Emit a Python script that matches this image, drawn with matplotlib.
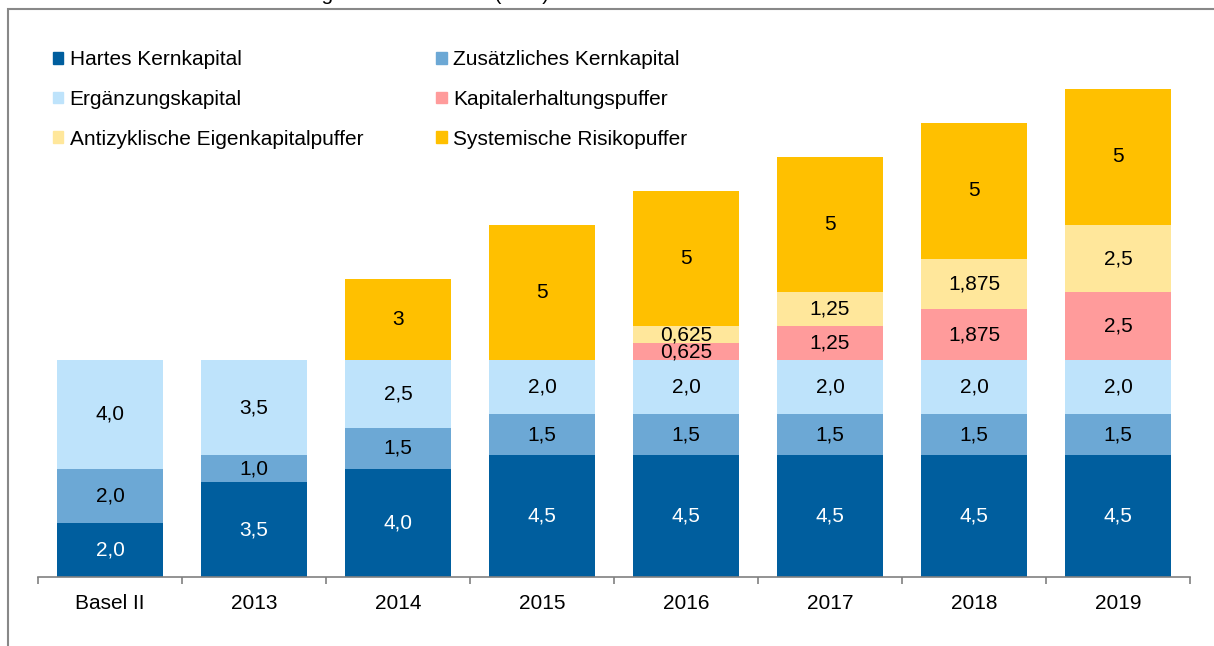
import matplotlib.pyplot as plt
import matplotlib.patches as mpatches
import numpy as np

plt.rcParams['font.family'] = ['Liberation Sans', 'DejaVu Sans']

categories = ['Basel II', '2013', '2014', '2015', '2016', '2017', '2018', '2019']

hartes_kernkapital = [2.0, 3.5, 4.0, 4.5, 4.5, 4.5, 4.5, 4.5]
zusaetzliches_kernkapital = [2.0, 1.0, 1.5, 1.5, 1.5, 1.5, 1.5, 1.5]
ergaenzungskapital = [4.0, 3.5, 2.5, 2.0, 2.0, 2.0, 2.0, 2.0]
kapitalerhaltungspuffer = [0, 0, 0, 0, 0.625, 1.25, 1.875, 2.5]
antizyklische_puffer = [0, 0, 0, 0, 0.625, 1.25, 1.875, 2.5]
systemische_puffer = [0, 0, 3, 5, 5, 5, 5, 5]

series = [
    ('Hartes Kernkapital', hartes_kernkapital, '#005E9E', 'white', '{:.1f}'),
    ('Zusätzliches Kernkapital', zusaetzliches_kernkapital, '#6CA8D5', 'black', '{:.1f}'),
    ('Ergänzungskapital', ergaenzungskapital, '#BEE3FB', 'black', '{:.1f}'),
    ('Kapitalerhaltungspuffer', kapitalerhaltungspuffer, '#FF9B9B', 'black', '{:g}'),
    ('Antizyklische Eigenkapitalpuffer', antizyklische_puffer, '#FFE79B', 'black', '{:g}'),
    ('Systemische Risikopuffer', systemische_puffer, '#FFC000', 'black', '{:g}'),
]

FS = 15
W, H = 1214, 646
fig = plt.figure(figsize=(W / 100, H / 100), dpi=100)
ax = fig.add_axes([38 / W, 69 / H, 1152 / W, 542 / H])

x = np.arange(len(categories))
bottom = np.zeros(len(categories))
handles = {}
for name, vals, color, tcolor, fmt in series:
    vals = np.array(vals, dtype=float)
    ax.bar(x, vals, width=0.74, bottom=bottom, color=color,
           edgecolor='none', zorder=2)
    for i, v in enumerate(vals):
        if v > 0:
            ax.text(x[i], bottom[i] + v / 2, fmt.format(v).replace('.', ','),
                    ha='center', va='center', fontsize=FS, color=tcolor, zorder=3)
    bottom += vals
    handles[name] = mpatches.Patch(color=color, label=name)

ax.set_xlim(-0.5, len(categories) - 0.5)
ax.set_ylim(0, 20)
for s in ['left', 'right', 'top']:
    ax.spines[s].set_visible(False)
ax.spines['bottom'].set_color('#808080')
ax.spines['bottom'].set_linewidth(1.2)
ax.set_yticks([])
ax.set_xticks(np.arange(-0.5, len(categories), 1.0))
ax.set_xticklabels([])
ax.tick_params(axis='x', which='major', direction='out', length=5, width=1.2, color='#808080')
ax.set_xticks(x, minor=True)
ax.set_xticklabels(categories, minor=True, fontsize=FS)
ax.tick_params(axis='x', which='minor', length=0, pad=12.5)

order = ['Hartes Kernkapital', 'Ergänzungskapital', 'Antizyklische Eigenkapitalpuffer',
         'Zusätzliches Kernkapital', 'Kapitalerhaltungspuffer', 'Systemische Risikopuffer']
fig.legend(handles=[handles[n] for n in order], ncol=2, loc='upper left',
           bbox_to_anchor=(53 / W, 1 - 50 / H), bbox_transform=fig.transFigure,
           frameon=False, fontsize=FS, handlelength=0.5, handleheight=0.5,
           handletextpad=0.3, labelspacing=1.0, columnspacing=3.5,
           borderpad=0, borderaxespad=0)

# Rahmen
fig.add_artist(mpatches.Rectangle((8 / W, -0.2), 1.5, 1.2 - 8.5 / H, transform=fig.transFigure,
                                  fill=False, edgecolor='#888888', linewidth=1.5))
# abgeschnittener Titel
fig.text(549 / W, 1 + 0.5 / H, 'Anforderungen nach Basel III (in %)', ha='right',
         va='baseline', fontsize=FS)

fig.savefig('out.png', dpi=100)
